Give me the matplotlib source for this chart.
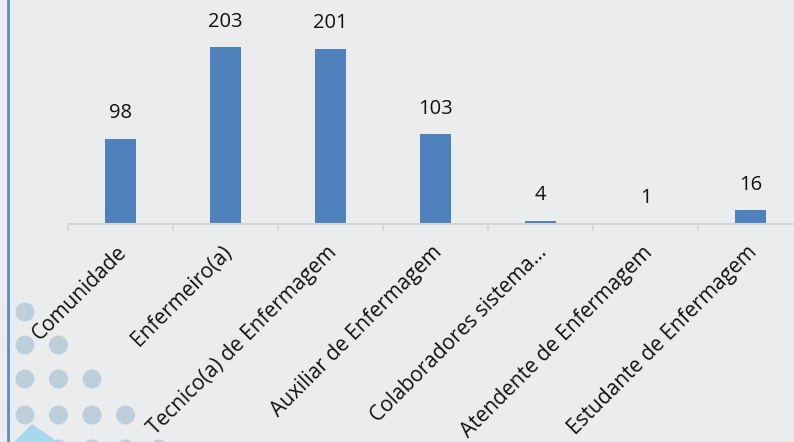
import matplotlib
matplotlib.use("Agg")
import matplotlib.pyplot as plt
import matplotlib.transforms as mtransforms
from matplotlib.patches import Circle, Polygon

categorias = ["Comunidade", "Enfermeiro(a)", "Tecnico(a) de Enfermagem",
              "Auxiliar de Enfermagem", "Colaboradores sistema...",
              "Atendente de Enfermagem", "Estudante de Enfermagem"]
valores = [98, 203, 201, 103, 4, 1, 16]

fundo = "#ebecee"
azul = "#4f81bd"

plt.rcParams["font.family"] = ["Open Sans", "DejaVu Sans"]

fig = plt.figure(figsize=(7.94, 4.42), dpi=100, facecolor=fundo)

# camada de fundo em pixels (linha azul e bolinhas decorativas)
bg = fig.add_axes([0, 0, 1, 1], zorder=0)
bg.set_xlim(0, 794)
bg.set_ylim(442, 0)
bg.axis("off")
bg.plot([8, 8], [0, 442], color="#5b8cc8", lw=2)
for linha, y in enumerate([312, 345, 379, 415, 449]):
    for j in range(linha + 1):
        bg.add_patch(Circle((25 + 33.5 * j, y), 9.5, color="#a9c4d4", alpha=0.7, lw=0))
bg.add_patch(Polygon([[14, 442], [32, 424], [58, 442]], color="#a8d8ec", lw=0))

ax = fig.add_axes([68 / 794, 1 - 224 / 442, 735 / 794, 224 / 442], zorder=1)
ax.patch.set_alpha(0)
x = range(len(categorias))
barras = ax.bar(x, valores, width=0.30, color=azul)
ax.set_xlim(-0.5, len(categorias) - 0.5)
ax.set_ylim(0, 224 / 0.872)

for b, v in zip(barras, valores):
    ax.annotate(str(v), (b.get_x() + b.get_width() / 2, v), xytext=(0, 11),
                textcoords="offset points", ha="center", va="bottom",
                fontsize=14.5, color="#111111")

for s in ["top", "right", "left"]:
    ax.spines[s].set_visible(False)
ax.spines["bottom"].set_color("#d4d5d7")
ax.spines["bottom"].set_linewidth(1.5)
ax.set_yticks([])
ax.set_xticks(list(x))
ax.set_xticklabels(categorias, rotation=45, ha="right", rotation_mode="anchor",
                   fontsize=15, color="#111111")
ax.tick_params(axis="x", which="major", length=0, pad=13)
desloc = mtransforms.ScaledTranslation(-4 / 100, 0, fig.dpi_scale_trans)
for lbl in ax.get_xticklabels():
    lbl.set_transform(lbl.get_transform() + desloc)
ax.set_xticks([i - 0.5 for i in range(len(categorias) + 1)], minor=True)
ax.tick_params(axis="x", which="minor", length=5, width=1.2, color="#d4d5d7")

fig.savefig("out.png", dpi=100, facecolor=fundo)
